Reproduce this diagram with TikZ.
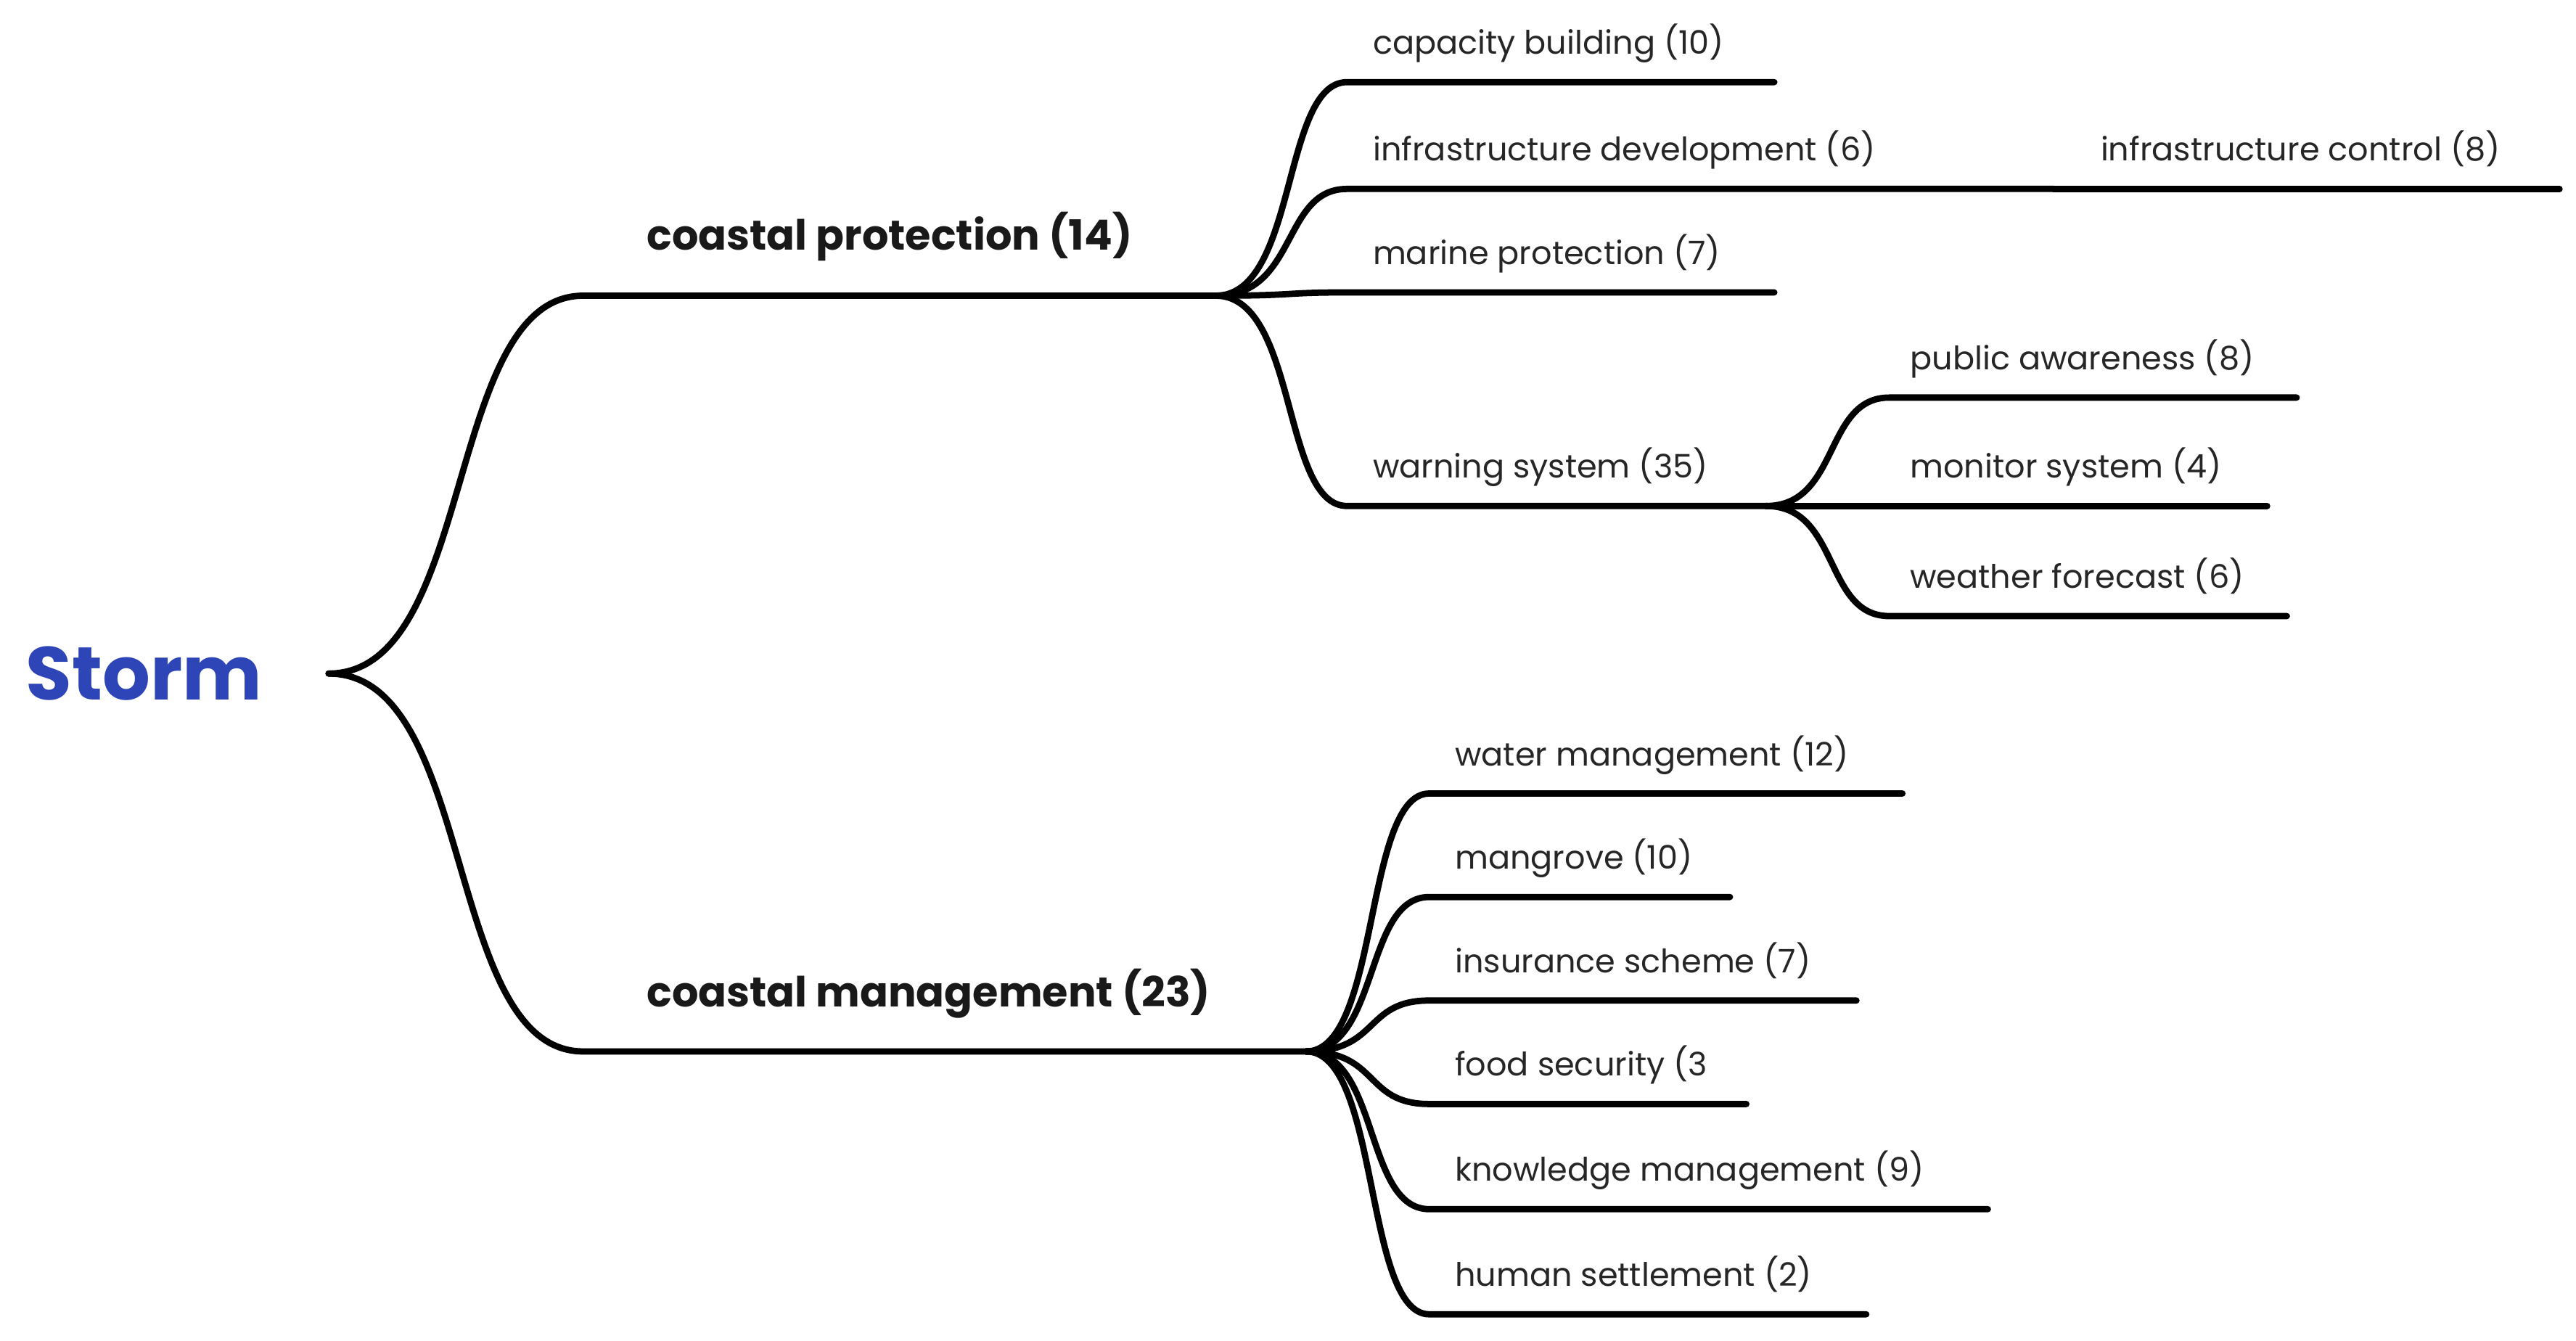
\documentclass[tikz,border=0pt]{standalone}
\usepackage{fontspec}
\setmainfont{Poppins}
\begin{document}
\begin{tikzpicture}[x=0.01cm,y=-0.01cm,
  br/.style={line width=1.1pt,line cap=round},
  lbl/.style={anchor=base west,inner sep=0pt,font=\fontsize{5.6}{6}\selectfont,text=black!85},
  big/.style={anchor=base west,inner sep=0pt,font=\fontsize{7.2}{8}\selectfont\bfseries,text=black!90}]
\useasboundingbox (0,0) rectangle (1568,816);
\definecolor{stormblue}{HTML}{2E45B8}
\node[anchor=base west,inner sep=0pt,font=\fontsize{13}{14}\selectfont\bfseries,text=stormblue] (storm) at (15,426) {Storm};
\coordinate (r) at (200,410);
% level 1
\coordinate (cpS) at (355,180); \coordinate (cpE) at (740,180);
\coordinate (cmS) at (355,640); \coordinate (cmE) at (795,640);
\node[big] (cp) at (393,152) {coastal protection (14)};
\node[big] (cm) at (393,613) {coastal management (23)};
\draw[br] (r) .. controls (290,410) and (270,180) .. (cpS) -- (cpE);
\draw[br] (r) .. controls (290,410) and (270,640) .. (cmS) -- (cmE);
% CP children
\foreach \n/\y/\e/\t in {cb/50/1080/capacity building (10), id/115/1250/infrastructure development (6), mp/178/1080/marine protection (7), ws/308/1075/warning system (35)}{
  \coordinate (\n S) at (820,\y); \coordinate (\n E) at (\e,\y);
  \node[lbl] (\n) at (835,\y-17) {\t};
  \draw[br] (cpE) .. controls (790,180) and (780,\y) .. (\n S) -- (\n E);
}
\coordinate (icE) at (1558,115);
\node[lbl] (ic) at (1278,98) {infrastructure control (8)};
\draw[br] (idE) -- (icE);
% WS children
\foreach \n/\y/\e/\t in {pa/242/1398/public awareness (8), ms/308/1380/monitor system (4), wf/375/1392/weather forecast (6)}{
  \coordinate (\n S) at (1150,\y); \coordinate (\n E) at (\e,\y);
  \node[lbl] (\n) at (1162,\y-17) {\t};
  \draw[br] (wsE) .. controls (1120,308) and (1110,\y) .. (\n S) -- (\n E);
}
% CM children
\foreach \n/\y/\e/\t in {wm/483/1158/water management (12), mg/546/1053/mangrove (10), is/609/1130/insurance scheme (7), fs/672/1063/food security (3, km/736/1210/knowledge management (9), hs/800/1136/human settlement (2)}{
  \coordinate (\n S) at (870,\y); \coordinate (\n E) at (\e,\y);
  \node[lbl] (\n) at (885,\y-17) {\t};
  \draw[br] (cmE) .. controls (840,640) and (830,\y) .. (\n S) -- (\n E);
}
\end{tikzpicture}
\end{document}
